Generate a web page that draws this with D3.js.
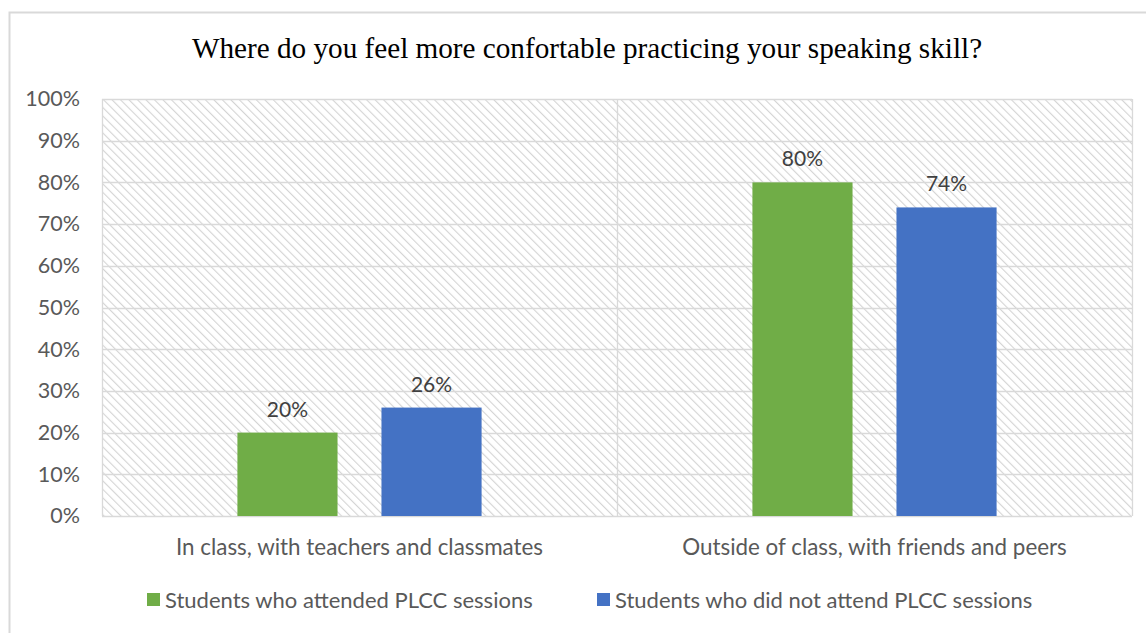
<!DOCTYPE html>
<html>
<head>
<meta charset="utf-8">
<script src="https://cdn.jsdelivr.net/npm/d3@7"></script>
<style>
  html, body { margin: 0; padding: 0; background: #fff; }
  svg { display: block; }
</style>
</head>
<body>
<svg id="chart" width="1146" height="633"></svg>
<script>
// Survey results: preferred setting for speaking practice
const title = "Where do you feel more confortable practicing your speaking skill?";
const categories = ["In class, with teachers and classmates", "Outside of class, with friends and peers"];
const seriesNames = ["Students who attended PLCC sessions", "Students who did not attend PLCC sessions"];
const attended = [0.20, 0.80];
const notAttended = [0.26, 0.74];
const yTicks = [0, 0.1, 0.2, 0.3, 0.4, 0.5, 0.6, 0.7, 0.8, 0.9, 1.0];
const colors = ["#70ad47", "#4472c4"];

const series = [attended, notAttended];
const data = categories.map((c, i) => ({
  category: c,
  values: series.map((s, j) => ({ key: seriesNames[j], value: s[i], color: colors[j] }))
}));

const svg = d3.select("#chart");
const W = 1146, H = 633;
const margin = { left: 102, right: 14, top: 99, bottom: 117 };
const plotW = W - margin.left - margin.right;
const plotH = H - margin.top - margin.bottom;

// Outer chart frame
svg.append("rect")
  .attr("x", 9.5).attr("y", 12.5)
  .attr("width", W + 20).attr("height", H + 20)
  .attr("fill", "#fff").attr("stroke", "#d9d9d9").attr("stroke-width", 2);

// Downward diagonal hatch fill for the plot area
const defs = svg.append("defs");
const pat = defs.append("pattern")
  .attr("id", "hatch")
  .attr("patternUnits", "userSpaceOnUse")
  .attr("width", 6).attr("height", 6)
  .attr("patternTransform", "rotate(-45)");
pat.append("rect").attr("width", 6).attr("height", 6).attr("fill", "#fff");
pat.append("line")
  .attr("x1", 0).attr("y1", 0).attr("x2", 0).attr("y2", 6)
  .attr("stroke", "#d4d4d4").attr("stroke-width", 2.2);

const g = svg.append("g").attr("transform", `translate(${margin.left},${margin.top})`);

const x0 = d3.scaleBand().domain(categories).range([0, plotW]).padding(0);
const x1 = d3.scaleBand().domain(seriesNames).range([0, x0.bandwidth()]).paddingInner(0.305).paddingOuter(0.94);
const y = d3.scaleLinear().domain([0, 1]).range([plotH, 0]);

g.append("rect")
  .attr("width", plotW).attr("height", plotH)
  .attr("fill", "url(#hatch)");

// Horizontal gridlines
g.append("g")
  .selectAll("line")
  .data(yTicks)
  .join("line")
  .attr("x1", 0).attr("x2", plotW)
  .attr("y1", d => Math.round(y(d)) + 0.5).attr("y2", d => Math.round(y(d)) + 0.5)
  .attr("stroke", "#d9d9d9").attr("stroke-width", 1.3);

// Category dividers (vertical gridlines)
const dividers = d3.range(categories.length + 1).map(i => i * x0.bandwidth());
g.append("g")
  .selectAll("line")
  .data(dividers)
  .join("line")
  .attr("x1", d => Math.round(d) + 0.5).attr("x2", d => Math.round(d) + 0.5)
  .attr("y1", 0).attr("y2", plotH)
  .attr("stroke", "#d9d9d9").attr("stroke-width", 1.3);

// Bars
const groups = g.append("g")
  .selectAll("g")
  .data(data)
  .join("g")
  .attr("transform", d => `translate(${x0(d.category)},0)`);

groups.selectAll("rect")
  .data(d => d.values)
  .join("rect")
  .attr("x", d => x1(d.key))
  .attr("width", x1.bandwidth())
  .attr("y", d => y(d.value))
  .attr("height", d => plotH - y(d.value))
  .attr("fill", d => d.color);

const labelFont = "Lato, 'Open Sans', sans-serif";

groups.selectAll("text")
  .data(d => d.values)
  .join("text")
  .attr("x", d => x1(d.key) + x1.bandwidth() / 2)
  .attr("y", d => y(d.value) - 16)
  .attr("text-anchor", "middle")
  .attr("font-family", labelFont)
  .attr("font-size", 21)
  .attr("fill", "#404040")
  .text(d => d3.format(".0%")(d.value));

// Y axis
const yAxis = d3.axisLeft(y).tickValues(yTicks).tickFormat(d3.format(".0%")).tickSize(0).tickPadding(22);
g.append("g")
  .call(yAxis)
  .call(a => a.select(".domain").remove())
  .call(a => a.selectAll("text")
    .attr("font-family", labelFont)
    .attr("font-size", 21.5)
    .attr("fill", "#595959"));

// X axis labels
const xAxis = d3.axisBottom(x0).tickSize(0).tickPadding(23);
g.append("g")
  .attr("transform", `translate(0,${plotH})`)
  .call(xAxis)
  .call(a => a.select(".domain").remove())
  .call(a => a.selectAll("text")
    .attr("font-family", labelFont)
    .attr("font-size", 22.4)
    .attr("fill", "#595959"));

// Title
svg.append("text")
  .attr("x", 587)
  .attr("y", 58)
  .attr("text-anchor", "middle")
  .attr("font-family", "'Liberation Serif', 'Times New Roman', serif")
  .attr("font-size", 29.2)
  .attr("fill", "#000")
  .text(title);

// Legend
const legendX = [147, 597];
const legend = svg.append("g")
  .selectAll("g")
  .data(seriesNames)
  .join("g")
  .attr("transform", (d, i) => `translate(${legendX[i]},600)`);
legend.append("rect")
  .attr("x", 0).attr("y", -7)
  .attr("width", 13).attr("height", 13)
  .attr("fill", (d, i) => colors[i]);
legend.append("text")
  .attr("x", 18).attr("y", 0)
  .attr("dy", "0.35em")
  .attr("font-family", labelFont)
  .attr("font-size", 22)
  .attr("fill", "#595959")
  .text(d => d);
</script>
</body>
</html>
